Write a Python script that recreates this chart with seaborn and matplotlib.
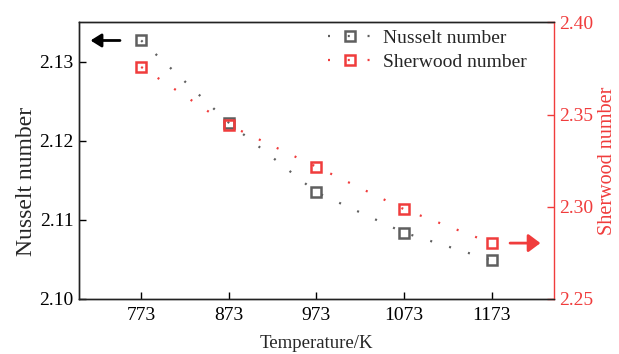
import matplotlib.pyplot as plt
import pandas as pd
import seaborn as sns

temperature = [773, 873, 973, 1073, 1173]
nusselt = [2.1327, 2.1223, 2.1135, 2.1084, 2.1049]
sherwood = [2.3758, 2.3443, 2.3217, 2.2987, 2.2803]

GRAY = '#5f5f5f'
RED = '#f03c3c'
FS = 14


def main():
    sns.set_theme(style='ticks')
    plt.rcParams['font.family'] = ['Liberation Serif', 'DejaVu Serif']
    plt.rcParams['font.size'] = FS

    df = pd.DataFrame({'T': temperature, 'Nu': nusselt, 'Sh': sherwood})

    fig = plt.figure(figsize=(6.19, 3.54), dpi=100)
    ax = fig.add_axes([0.1276, 0.1554, 0.7669, 0.7816])
    ax2 = ax.twinx()

    dots = (0, (0.9, 8.0))
    sns.lineplot(data=df, x='T', y='Nu', ax=ax, color=GRAY, lw=1.6,
                 linestyle=dots, marker='s', ms=7.5, mew=1.8,
                 mfc='none', mec=GRAY, legend=False)
    sns.lineplot(data=df, x='T', y='Sh', ax=ax2, color=RED, lw=1.6,
                 linestyle=dots, marker='s', ms=7.5, mew=1.8,
                 mfc='none', mec=RED, legend=False)

    ax.set_xlim(702, 1244)
    ax.set_ylim(2.10, 2.135)
    ax2.set_ylim(2.25, 2.40)
    ax.set_xticks(temperature)
    ax.set_yticks([2.10, 2.11, 2.12, 2.13])
    ax2.set_yticks([2.25, 2.30, 2.35, 2.40])
    ax.yaxis.set_major_formatter(plt.FormatStrFormatter('%.2f'))
    ax2.yaxis.set_major_formatter(plt.FormatStrFormatter('%.2f'))

    ax.set_xlabel('Temperature/K', fontsize=13.5, labelpad=8)
    ax.set_ylabel('Nusselt number', fontsize=17, labelpad=1.5)
    ax.yaxis.label.set_y(0.426)
    ax2.set_ylabel('Sherwood number', color=RED, fontsize=14.5, labelpad=3.5)

    ax.tick_params(axis='both', direction='in', length=5, width=1.0,
                   colors='black', labelsize=FS)
    ax.tick_params(axis='x', pad=6)
    ax.tick_params(axis='y', pad=4)
    ax2.tick_params(axis='y', direction='in', length=5, width=1.0,
                    colors=RED, labelsize=FS, pad=4)

    for a in (ax, ax2):
        for s in a.spines.values():
            s.set_linewidth(1.0)
            s.set_color('#222222')
    ax2.spines['right'].set_color(RED)
    ax.spines['right'].set_visible(False)

    # arrows pointing to each axis
    ax.annotate('', xy=(temperature[0] - 61, nusselt[0]),
                xytext=(temperature[0] - 21, nusselt[0]),
                arrowprops=dict(arrowstyle='-|>,head_width=0.25', color='black',
                                lw=2, mutation_scale=16))
    ax2.annotate('', xy=(temperature[-1] + 59, sherwood[-1]),
                 xytext=(temperature[-1] + 18, sherwood[-1]),
                 arrowprops=dict(arrowstyle='-|>,head_width=0.3', color=RED,
                                 lw=2, mutation_scale=18))

    handles = ax.get_lines()[:1] + ax2.get_lines()[:1]
    ax.legend(handles, ['Nusselt number', 'Sherwood number'],
              loc='upper left', bbox_to_anchor=(0.525, 0.975),
              frameon=False, borderpad=0, borderaxespad=0,
              handlelength=2.2, handletextpad=0.6, labelspacing=0.35,
              fontsize=FS)

    plt.savefig('out.png', dpi=100)


if __name__ == '__main__':
    main()
